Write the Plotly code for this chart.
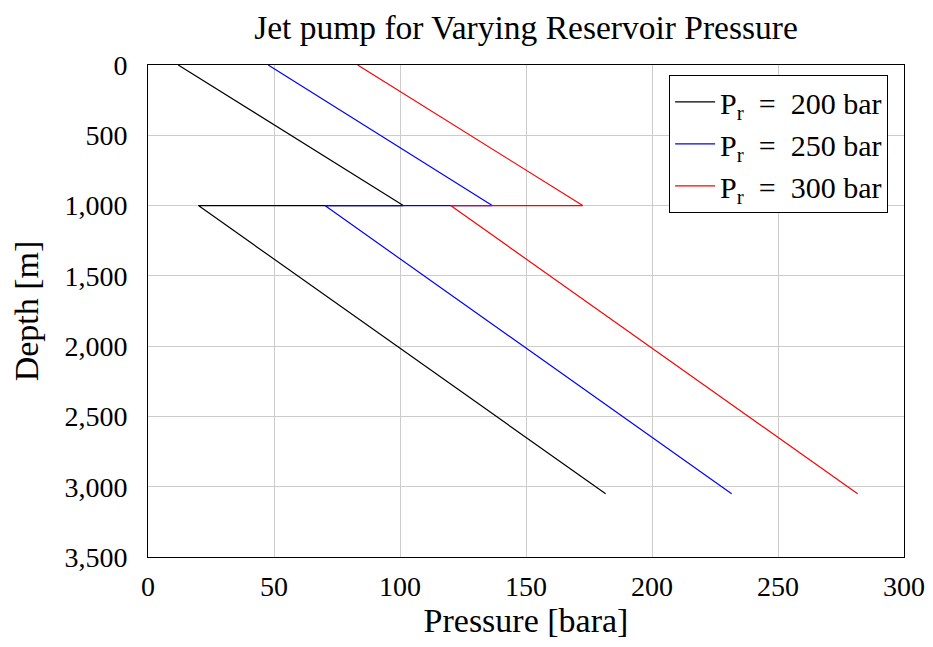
import plotly.graph_objects as go

depth = [0, 1000, 1000, 3050]
p_200 = [12.0, 101.3, 20.0, 181.6]
p_250 = [47.7, 136.6, 70.2, 231.6]
p_300 = [83.2, 172.5, 120.1, 281.6]

names = ["P<sub>r</sub>&nbsp;&nbsp;=&nbsp;&nbsp;200&nbsp;bar",
         "P<sub>r</sub>&nbsp;&nbsp;=&nbsp;&nbsp;250&nbsp;bar",
         "P<sub>r</sub>&nbsp;&nbsp;=&nbsp;&nbsp;300&nbsp;bar"]
colors = ["black", "blue", "red"]
series = [p_200, p_250, p_300]

x_ticks = [0, 50, 100, 150, 200, 250, 300]
y_ticks = [0, 500, 1000, 1500, 2000, 2500, 3000, 3500]
y_ticklabels = ["0", "500", "1,000", "1,500", "2,000", "2,500", "3,000", "3,500"]

FONT = "Liberation Serif"
W, H = 917, 631  # page body has 8px margin

fig = go.Figure()
for name, col, p in zip(names, colors, series):
    fig.add_trace(go.Scatter(x=p, y=depth, mode="lines", name=name,
                             line=dict(color=col, width=1.2)))

fig.update_layout(
    width=W, height=H,
    margin=dict(l=140, r=21, t=57, b=82, autoexpand=False),
    paper_bgcolor="white", plot_bgcolor="white",
    font=dict(family=FONT, size=28, color="black"),
    title=dict(text="Jet pump for Varying Reservoir Pressure", x=(526 - 8) / W,
               xanchor="center", y=1 - 19 / H, yanchor="middle",
               font=dict(size=33.5)),
    legend=dict(x=0.979, y=0.98, xanchor="right", yanchor="top",
                bgcolor="white", bordercolor="black", borderwidth=1,
                font=dict(size=30), tracegroupgap=0, itemwidth=40),
    showlegend=True,
)
fig.update_xaxes(range=[0, 300], tickvals=x_ticks, showgrid=True, gridcolor="#cccccc",
                 gridwidth=1, showline=True, linecolor="black", linewidth=1, mirror=True,
                 ticks="", zeroline=False, ticklabelstandoff=4, automargin=False,
                 tickfont=dict(size=28),
                 title=dict(text="Pressure [bara]", standoff=14, font=dict(size=34)))
fig.update_yaxes(range=[3500, 0], tickvals=y_ticks, ticktext=y_ticklabels, showgrid=True,
                 gridcolor="#cccccc", gridwidth=1, showline=True, linecolor="black",
                 linewidth=1, mirror=True, ticks="", zeroline=False, automargin=False,
                 ticklabelstandoff=14, tickfont=dict(size=28),
                 title=dict(text="Depth [m]", standoff=20, font=dict(size=34)))

fig.write_html("out.html")
